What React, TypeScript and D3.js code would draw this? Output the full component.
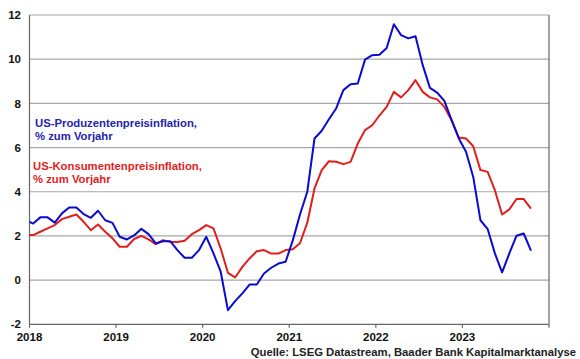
import React from "react";
import * as d3 from "d3";

// Monthly observations from Dec 2017 to Oct 2023 (index -1 .. 69, relative to Jan 2018)
const startYear = 2017;
const startMonth = 12;
const months: string[] = d3.range(71).map((k) => {
  const m = startMonth - 1 + k;
  const y = startYear + Math.floor(m / 12);
  return `${y}-${String((m % 12) + 1).padStart(2, "0")}`;
});

const ppi: number[] = [
  2.72,
  2.56, 2.84, 2.84, 2.6, 3.02, 3.29, 3.29, 2.99, 2.82, 3.14, 2.71, 2.59,
  1.96, 1.84, 2.02, 2.32, 2.08, 1.66, 1.76, 1.76, 1.36, 1.01, 1.01, 1.36,
  1.96, 1.21, 0.38, -1.36, -0.95, -0.6, -0.2, -0.2, 0.3, 0.56, 0.75, 0.83,
  1.81, 2.98, 4.0, 6.41, 6.76, 7.28, 7.77, 8.6, 8.87, 8.9, 9.98, 10.18,
  10.2, 10.51, 11.58, 11.09, 10.94, 11.04, 9.73, 8.7, 8.49, 8.11, 7.24, 6.41,
  5.81, 4.67, 2.71, 2.31, 1.21, 0.35, 1.21, 2.01, 2.11, 1.33,
];

const cpi: number[] = [
  2.05,
  2.04, 2.19, 2.34, 2.49, 2.76, 2.87, 2.97, 2.64, 2.26, 2.52, 2.19, 1.89,
  1.51, 1.51, 1.86, 2.0, 1.84, 1.63, 1.81, 1.73, 1.73, 1.78, 2.08, 2.26,
  2.49, 2.34, 1.43, 0.33, 0.12, 0.6, 0.98, 1.31, 1.36, 1.2, 1.2, 1.36,
  1.4, 1.68, 2.6, 4.15, 4.98, 5.38, 5.36, 5.25, 5.35, 6.18, 6.79, 7.01,
  7.45, 7.84, 8.52, 8.27, 8.6, 9.05, 8.52, 8.27, 8.18, 7.84, 7.24, 6.46,
  6.41, 6.06, 4.98, 4.9, 4.07, 2.97, 3.2, 3.67, 3.67, 3.24,
];

const yearTicks: string[] = ["2018", "2019", "2020", "2021", "2022", "2023", "2024"];
const yTicks: number[] = [-2, 0, 2, 4, 6, 8, 10, 12];

const ppiLabel = ["US-Produzentenpreisinflation,", "% zum Vorjahr"];
const cpiLabel = ["US-Konsumentenpreisinflation,", "% zum Vorjahr"];
const sourceText = "Quelle: LSEG Datastream, Baader Bank Kapitalmarktanalyse";

const W = 580;
const H = 359;
const left = 29.5;
const right = 549;
const top = 15;
const bottom = 324.3;
const font = "'Liberation Sans', Arial, sans-serif";
const blue = "#0a0ad0";
const red = "#e01e1e";

function monthIndex(s: string): number {
  const [y, m] = s.split("-").map(Number);
  return (y - 2018) * 12 + (m - 1);
}

export default function App() {
  const x = d3.scaleLinear().domain([0, 72]).range([left, right]);
  const y = d3.scaleLinear().domain([-2, 12]).range([bottom, top]);

  const line = d3
    .line<number>()
    .x((_, i) => x(monthIndex(months[i]) + 0.5))
    .y((d) => y(d));

  return (
    <svg
      width={W}
      height={H}
      style={{ position: "absolute", left: 0, top: 0, background: "#fff" }}
      fontFamily={font}
    >
      <defs>
        <clipPath id="plot">
          <rect x={left} y={0} width={right - left} height={H} />
        </clipPath>
      </defs>
      {yTicks.map((t) => (
        <g key={t}>
          {t > -2 && (
            <line x1={left} x2={right} y1={y(t)} y2={y(t)} stroke="#a6a6a6" strokeWidth={1.2} />
          )}
          <text
            x={21}
            y={y(t)}
            dy="0.36em"
            textAnchor="end"
            fontSize={11.5}
            fontWeight="bold"
            fill="#111"
          >
            {t}
          </text>
        </g>
      ))}
      <line x1={left} x2={right} y1={bottom} y2={bottom} stroke="#666" strokeWidth={1.2} />
      <line x1={left} x2={left} y1={top} y2={bottom} stroke="#666" strokeWidth={1.2} />
      <line x1={right} x2={right} y1={top} y2={bottom} stroke="#666" strokeWidth={1.2} />
      {yearTicks.map((yr, i) => (
        <g key={yr}>
          <line
            x1={x(i * 12)}
            x2={x(i * 12)}
            y1={bottom}
            y2={bottom + 3.5}
            stroke="#666"
            strokeWidth={1.2}
          />
          {i < 6 && (
            <text
              x={x(i * 12)}
              y={337}
              dy="0.36em"
              textAnchor="middle"
              fontSize={11.5}
              fontWeight="bold"
              fill="#111"
            >
              {yr}
            </text>
          )}
        </g>
      ))}
      <g clipPath="url(#plot)">
        <path d={line(cpi) || ""} fill="none" stroke={red} strokeWidth={2} strokeLinejoin="round" />
        <path d={line(ppi) || ""} fill="none" stroke={blue} strokeWidth={2} strokeLinejoin="round" />
      </g>
      {ppiLabel.map((s, i) => (
        <text
          key={s}
          x={35}
          y={123 + i * 13}
          dy="0.36em"
          fontSize={11.3}
          fontWeight="bold"
          fill="#2323b0"
        >
          {s}
        </text>
      ))}
      {cpiLabel.map((s, i) => (
        <text
          key={s}
          x={33}
          y={166 + i * 13}
          dy="0.36em"
          fontSize={11.3}
          fontWeight="bold"
          fill={red}
        >
          {s}
        </text>
      ))}
      <text
        x={576}
        y={352}
        dy="0.36em"
        textAnchor="end"
        fontSize={11.3}
        fontWeight="bold"
        fill="#222"
      >
        {sourceText}
      </text>
    </svg>
  );
}
